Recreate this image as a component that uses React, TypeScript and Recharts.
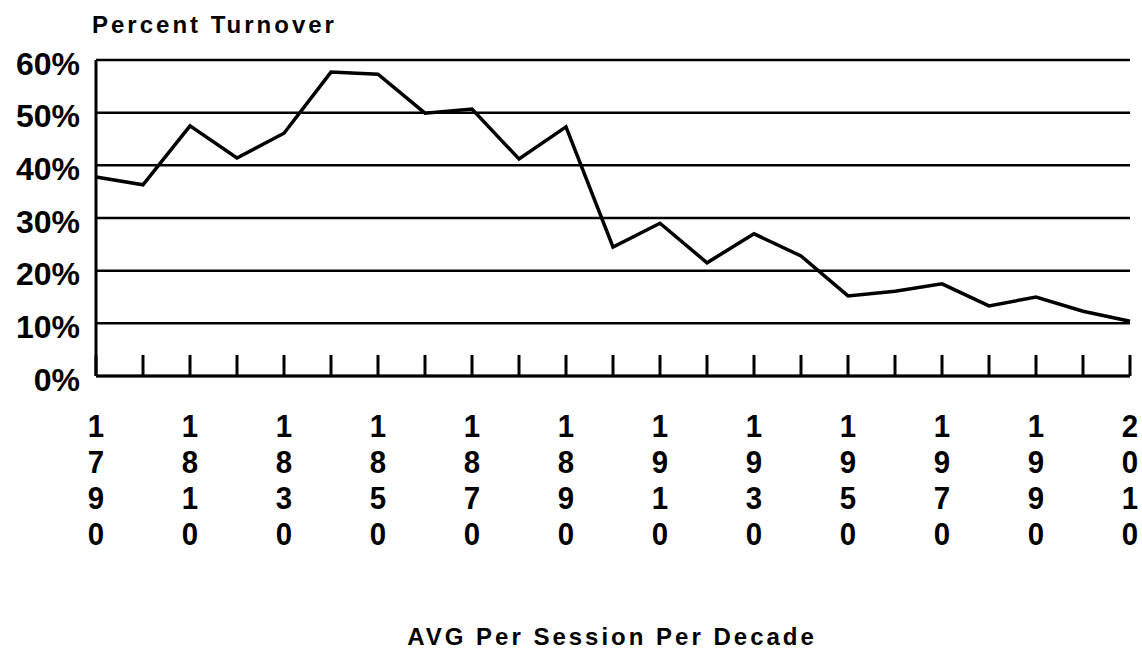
import { CartesianGrid, Line, LineChart, XAxis, YAxis } from 'recharts';

// Average turnover per session, one point per decade.
const DECADES = [
  1790, 1800, 1810, 1820, 1830, 1840, 1850, 1860, 1870, 1880, 1890, 1900,
  1910, 1920, 1930, 1940, 1950, 1960, 1970, 1980, 1990, 2000, 2010,
];
const TURNOVER = [
  37.8, 36.3, 47.5, 41.4, 46.1, 57.7, 57.3, 49.9, 50.7, 41.2, 47.3, 24.5,
  29.0, 21.5, 27.0, 22.8, 15.2, 16.1, 17.5, 13.3, 15.0, 12.3, 10.4,
];
const Y_TICKS = [0, 10, 20, 30, 40, 50, 60];
// only every other decade carries a (vertical) label
const LABELED_DECADES = [1790, 1810, 1830, 1850, 1870, 1890, 1910, 1930, 1950, 1970, 1990, 2010];

const FONT = '"Liberation Sans", Arial, Helvetica, sans-serif';

const data = DECADES.map((d, i) => ({ decade: d, turnover: TURNOVER[i] }));

function YTick({ x, y, payload }: any) {
  return (
    <text x={x} y={y + 14.5} textAnchor="end" fontFamily={FONT} fontWeight={700} fontSize={32} fill="#000">
      {`${payload.value}%`}
    </text>
  );
}

// Upward tick mark at every decade, digits stacked vertically under labeled ones.
function XTick({ x, y, payload }: any) {
  const year = payload.value as number;
  const labeled = LABELED_DECADES.includes(year);
  return (
    <g>
      <line x1={x} x2={x} y1={y} y2={y - 21} stroke="#000" strokeWidth={3} />
      {labeled && (
        <text
          transform={`translate(${x},${y + 61}) scale(0.92,1)`}
          textAnchor="middle"
          fontFamily={FONT}
          fontWeight={700}
          fontSize={32}
          fill="#000"
        >
          {String(year)
            .split('')
            .map((ch, i) => (
              <tspan key={i} x={0} dy={i === 0 ? 0 : 36}>
                {ch}
              </tspan>
            ))}
        </text>
      )}
    </g>
  );
}

export default function App() {
  return (
    <div style={{ position: 'absolute', left: 0, top: 0, width: 1142, height: 650, background: '#fff' }}>
      <LineChart width={1142} height={650} data={data} margin={{ top: 60, right: 12, bottom: 74, left: 10 }}>
        <CartesianGrid vertical={false} stroke="#000" strokeWidth={2.5} />
        <XAxis
          dataKey="decade"
          type="number"
          domain={[1790, 2010]}
          ticks={DECADES}
          interval={0}
          height={200}
          tickSize={0}
          tickMargin={0}
          tickLine={false}
          axisLine={{ stroke: '#000', strokeWidth: 3 }}
          tick={<XTick />}
        />
        <YAxis
          domain={[0, 60]}
          ticks={Y_TICKS}
          width={86}
          tickSize={0}
          tickMargin={16}
          tickLine={false}
          axisLine={{ stroke: '#000', strokeWidth: 3 }}
          tick={<YTick />}
        />
        <Line
          type="linear"
          dataKey="turnover"
          stroke="#000"
          strokeWidth={3.5}
          dot={false}
          isAnimationActive={false}
        />
      </LineChart>
      <svg width={1142} height={650} style={{ position: 'absolute', left: 0, top: 0, pointerEvents: 'none' }}>
        <text x={92} y={33} fontFamily={FONT} fontWeight={700} fontSize={24} letterSpacing={3} fill="#000">
          Percent Turnover
        </text>
        <text x={612} y={645} textAnchor="middle" fontFamily={FONT} fontWeight={700} fontSize={24} letterSpacing={3} fill="#000">
          AVG Per Session Per Decade
        </text>
      </svg>
    </div>
  );
}
